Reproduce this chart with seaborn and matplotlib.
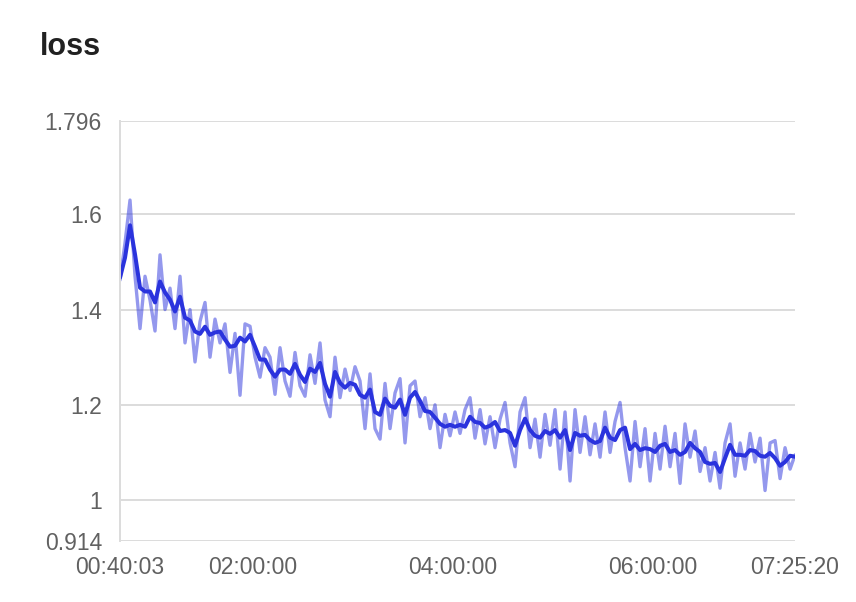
import numpy as np
import pandas as pd
import seaborn as sns
import matplotlib.pyplot as plt

# wall-clock range of the run (seconds since midnight)
t_start = 2403    # 00:40:03
t_end = 26720     # 07:25:20

# smoothed loss (dark line)
loss_smooth = [
    1.467, 1.509, 1.577, 1.516, 1.446, 1.438, 1.438, 1.415, 1.459, 1.436,
    1.421, 1.396, 1.427, 1.383, 1.377, 1.354, 1.349, 1.364, 1.347, 1.352,
    1.354, 1.337, 1.322, 1.324, 1.341, 1.333, 1.347, 1.322, 1.295, 1.295,
    1.274, 1.259, 1.274, 1.274, 1.265, 1.286, 1.263, 1.248, 1.276, 1.269,
    1.288, 1.244, 1.217, 1.269, 1.246, 1.236, 1.246, 1.242, 1.221, 1.215,
    1.232, 1.185, 1.179, 1.213, 1.198, 1.194, 1.211, 1.179, 1.215, 1.227,
    1.208, 1.187, 1.185, 1.173, 1.160, 1.154, 1.158, 1.154, 1.158, 1.154,
    1.175, 1.164, 1.162, 1.152, 1.156, 1.164, 1.145, 1.147, 1.141, 1.114,
    1.147, 1.171, 1.147, 1.135, 1.131, 1.145, 1.139, 1.147, 1.131, 1.147,
    1.105, 1.141, 1.135, 1.137, 1.126, 1.120, 1.124, 1.152, 1.131, 1.126,
    1.147, 1.152, 1.107, 1.118, 1.105, 1.109, 1.107, 1.101, 1.114, 1.118,
    1.101, 1.105, 1.095, 1.101, 1.120, 1.109, 1.101, 1.080, 1.076, 1.078,
    1.059, 1.088, 1.116, 1.095, 1.095, 1.093, 1.105, 1.103, 1.093, 1.091,
    1.099, 1.088, 1.072, 1.080, 1.093, 1.091,
]

# raw loss (light line)
loss_raw = [
    1.462, 1.540, 1.630, 1.470, 1.360, 1.470, 1.420, 1.355, 1.515, 1.400,
    1.445, 1.360, 1.470, 1.330, 1.400, 1.290, 1.375, 1.415, 1.300, 1.380,
    1.330, 1.370, 1.268, 1.350, 1.220, 1.370, 1.365, 1.300, 1.258, 1.320,
    1.300, 1.222, 1.320, 1.250, 1.218, 1.310, 1.240, 1.218, 1.305, 1.245,
    1.330, 1.210, 1.175, 1.300, 1.215, 1.275, 1.230, 1.280, 1.250, 1.150,
    1.265, 1.150, 1.128, 1.245, 1.150, 1.225, 1.255, 1.120, 1.240, 1.250,
    1.175, 1.215, 1.150, 1.200, 1.110, 1.180, 1.135, 1.185, 1.140, 1.190,
    1.215, 1.130, 1.190, 1.118, 1.175, 1.110, 1.170, 1.205, 1.120, 1.070,
    1.185, 1.215, 1.110, 1.170, 1.090, 1.180, 1.115, 1.190, 1.065, 1.185,
    1.040, 1.190, 1.100, 1.175, 1.095, 1.160, 1.090, 1.185, 1.100, 1.165,
    1.205, 1.110, 1.040, 1.165, 1.070, 1.150, 1.040, 1.140, 1.065, 1.155,
    1.070, 1.140, 1.035, 1.160, 1.090, 1.145, 1.060, 1.110, 1.040, 1.100,
    1.025, 1.120, 1.160, 1.050, 1.120, 1.065, 1.140, 1.080, 1.130, 1.020,
    1.120, 1.125, 1.045, 1.110, 1.065, 1.095,
]

y_ticks = [0.914, 1.0, 1.2, 1.4, 1.6, 1.796]
y_labels = ['0.914', '1', '1.2', '1.4', '1.6', '1.796']
x_ticks = [2403, 7200, 14400, 21600, 26720]
x_labels = ['00:40:03', '02:00:00', '04:00:00', '06:00:00', '07:25:20']

# points are logged at a regular interval
df = pd.DataFrame({
    'time': np.linspace(t_start, t_end, len(loss_smooth)),
    'raw': loss_raw,
    'smooth': loss_smooth,
})

sns.set_theme(style="white")
plt.rcParams['font.family'] = ['Liberation Sans', 'DejaVu Sans']

fig = plt.figure(figsize=(8.56, 6.02), dpi=100)
ax = fig.add_axes([0.1402, 0.1013, 0.7886, 0.6977])

line_color = '#2a33dd'
sns.lineplot(data=df, x='time', y='raw', ax=ax, color=line_color,
             alpha=0.5, linewidth=2.4)
sns.lineplot(data=df, x='time', y='smooth', ax=ax, color=line_color,
             linewidth=2.9)

ax.set_xlim(t_start, t_end)
ax.set_ylim(0.914, 1.796)
ax.set_yticks(y_ticks, y_labels)
ax.set_xticks(x_ticks, x_labels)
ax.set_xlabel('')
ax.set_ylabel('')

grid_color = '#dcdcdc'
ax.grid(axis='y', color=grid_color, linewidth=1.4)
ax.grid(axis='x', visible=False)
ax.set_axisbelow(True)
for side in ['top', 'right', 'bottom']:
    ax.spines[side].set_visible(False)
ax.spines['left'].set_color(grid_color)
ax.spines['left'].set_linewidth(1.4)

ax.tick_params(axis='y', length=0, pad=13, labelsize=16.5, labelcolor='#616161')
ax.tick_params(axis='x', length=0, pad=11, labelsize=16.5, labelcolor='#616161')

fig.text(0.047, 0.909, 'loss', fontsize=22, fontweight='bold',
         color='#212121', va='baseline', ha='left')

fig.savefig('out.png', dpi=100)
